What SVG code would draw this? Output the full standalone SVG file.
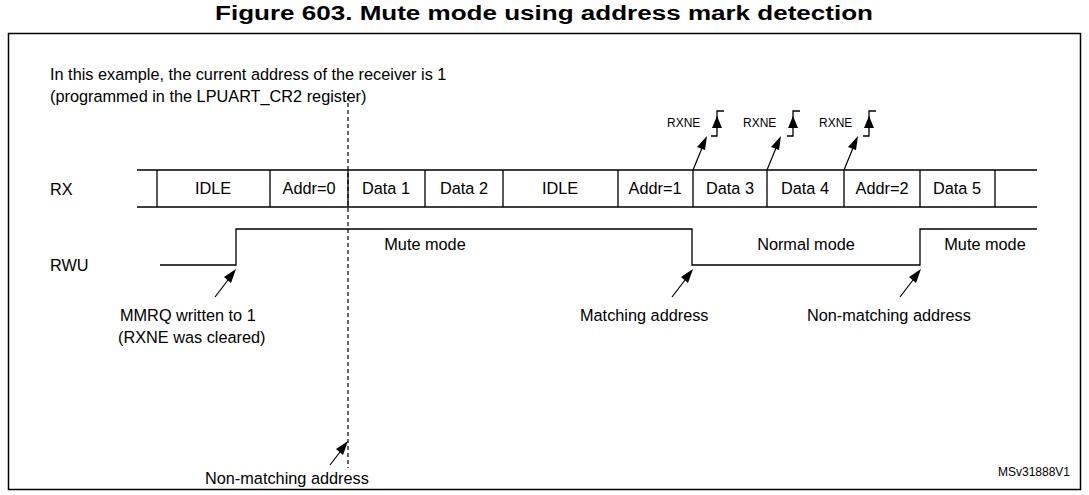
<svg xmlns="http://www.w3.org/2000/svg" width="1089" height="495" viewBox="0 0 1089 495">
<style>
text{font-family:"Liberation Sans",Arial,sans-serif;font-size:16.3px;fill:#000}
.s{font-size:12px}
.l{stroke:#000;stroke-width:1.3;fill:none}
.a{stroke:#000;stroke-width:1.2;fill:none}
</style>
<rect width="1089" height="495" fill="#fff"/>
<text x="544" y="20" text-anchor="middle" textLength="658" lengthAdjust="spacingAndGlyphs" style="font-weight:bold;font-size:20px">Figure 603. Mute mode using address mark detection</text>
<rect x="8.5" y="33.5" width="1072" height="456" fill="none" stroke="#000" stroke-width="1.5"/>
<g id="note"><text x="50" y="80">In this example, the current address of the receiver is 1</text><text x="50" y="102">(programmed in the LPUART_CR2 register)</text></g>
<g id="rx">
<text x="50" y="195">RX</text>
<path class="l" d="M137,170H1037M137,207H1037M157,170V207M270,170V207M348,170V207M425,170V207M503,170V207M618,170V207M693,170V207M767,170V207M844,170V207M920,170V207M995,170V207"/>
<text x="213" y="194" text-anchor="middle">IDLE</text>
<text x="309" y="194" text-anchor="middle">Addr=0</text>
<text x="386" y="194" text-anchor="middle">Data 1</text>
<text x="464" y="194" text-anchor="middle">Data 2</text>
<text x="560" y="194" text-anchor="middle">IDLE</text>
<text x="655" y="194" text-anchor="middle">Addr=1</text>
<text x="730" y="194" text-anchor="middle">Data 3</text>
<text x="805" y="194" text-anchor="middle">Data 4</text>
<text x="882" y="194" text-anchor="middle">Addr=2</text>
<text x="957" y="194" text-anchor="middle">Data 5</text>
</g>
<g id="rxne">
<text class="s" x="667" y="127">RXNE</text><text class="s" x="743" y="127">RXNE</text><text class="s" x="819" y="127">RXNE</text>
<path class="l" d="M711,136H717V111H724M787,136H793V111H800M863,136H869V111H876" stroke-width="1"/>
<path d="M712,128L717,116L722,128z M788,128L793,116L798,128z M864,128L869,116L874,128z"/>
</g>
<g id="rwu">
<text x="50" y="271">RWU</text>
<path class="l" d="M160,265H236V229H692V265H920V229H1037"/>
<text x="425" y="250" text-anchor="middle">Mute mode</text>
<text x="806" y="250" text-anchor="middle">Normal mode</text>
<text x="985" y="250" text-anchor="middle">Mute mode</text>
</g>
<g id="connectors">
<path d="M348,96V468" stroke="#000" stroke-width="1.2" stroke-dasharray="4,3"/>
<path class="a" d="M693,170L702,148M767,170L776,148M844,170L853,148"/>
<path d="M707,136L697,147L705,150z M781,136L771,147L779,150z M858,136L848,147L856,150z"/>
<path class="a" d="M215,297L228,280M672,297L685,280M900,297L913,280M330,465L340,452"/>
<path d="M236,269L224,277L231,283z M693,269L681,277L688,283z M921,269L909,277L916,283z M348,441L336,449L343,455z"/>
</g>
<g id="labels">
<text x="120" y="321">MMRQ written to 1</text>
<text x="118" y="343">(RXNE was cleared)</text>
<text x="580" y="321">Matching address</text>
<text x="807" y="321">Non-matching address</text>
<text x="205" y="484">Non-matching address</text>
<text class="s" x="1070" y="476" text-anchor="end">MSv31888V1</text>
</g>
</svg>
